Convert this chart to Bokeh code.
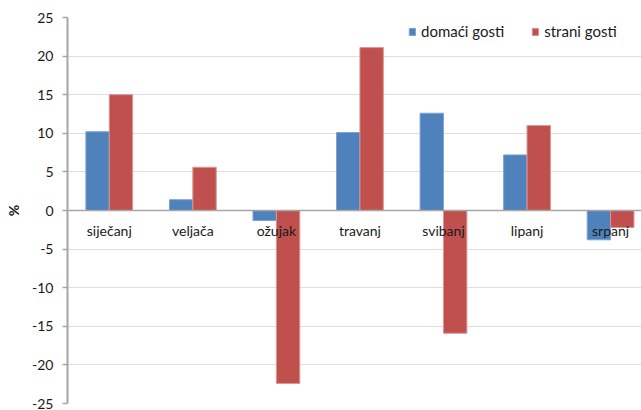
from bokeh.plotting import figure
from bokeh.models import (ColumnDataSource, Range1d, FixedTicker, Span, Legend,
                          LegendItem, PrintfTickFormatter)
from bokeh.core.properties import value
from bokeh.embed import file_html
from bokeh.resources import INLINE

# Monthly change, %
months = ["siječanj", "veljača", "ožujak", "travanj", "svibanj", "lipanj", "srpanj"]
domaci = [10.2, 1.4, -1.3, 10.1, 12.6, 7.2, -3.8]
strani = [15.0, 5.6, -22.4, 21.1, -15.9, 11.0, -2.2]
series_names = ["domaći gosti", "strani gosti"]
y_ticks = [-25, -20, -15, -10, -5, 0, 5, 10, 15, 20, 25]

FONT = "Lato"
BLUE = "#4F81BD"
RED = "#C0504D"
GRAY = "#A6A6A6"

centers = [i + 0.5 for i in range(len(months))]
bw = 0.28
src = ColumnDataSource(dict(
    month=months,
    xc=centers,
    xd=[c - bw / 2 for c in centers],
    xs=[c + bw / 2 for c in centers],
    domaci=domaci,
    strani=strani,
))

p = figure(width=641, height=410, output_backend="svg", toolbar_location=None,
           x_range=Range1d(0, 6.87), y_range=Range1d(-25, 25),
           min_border_left=67, min_border_right=0, min_border_top=17,
           min_border_bottom=7)
p.outline_line_color = None
p.background_fill_color = "white"
p.border_fill_color = "white"

# grid
p.xgrid.visible = False
p.ygrid.ticker = FixedTicker(ticks=y_ticks)
p.ygrid.grid_line_color = "#BDBDBD"
p.ygrid.grid_line_dash = "1 1"
p.ygrid.grid_line_width = 1

# axes
p.xaxis.visible = False
ya = p.yaxis[0]
ya.ticker = FixedTicker(ticks=y_ticks)
ya.formatter = PrintfTickFormatter(format="%d")
ya.axis_line_color = GRAY
ya.axis_line_width = 2
ya.major_tick_line_color = GRAY
ya.major_tick_line_width = 1.5
ya.major_tick_out = 5
ya.major_tick_in = 0
ya.minor_tick_line_color = None
ya.major_label_text_font = FONT
ya.major_label_text_font_size = "14px"
ya.major_label_text_color = "#1a1a1a"
ya.major_label_standoff = 9
ya.axis_label = "%"
ya.axis_label_text_font = FONT
ya.axis_label_text_font_style = "bold"
ya.axis_label_text_font_size = "14px"
ya.axis_label_text_color = "#1a1a1a"
ya.axis_label_standoff = 7

# bars
r_dom = p.vbar(x="xd", top="domaci", bottom=0, width=bw, source=src,
               fill_color=BLUE, line_color="#7FA3CF", line_width=1)
r_str = p.vbar(x="xs", top="strani", bottom=0, width=bw, source=src,
               fill_color=RED, line_color="#D99694", line_width=1)

# zero line
p.add_layout(Span(location=0, dimension="width", line_color=GRAY, line_width=1.5))

# category labels next to the zero line
p.text(x="xc", y=0, text="month", source=src, text_align="center",
       text_baseline="top", y_offset=11, text_font=value(FONT),
       text_font_size="14px", text_color="#1a1a1a")

legend = Legend(items=[LegendItem(label=series_names[0], renderers=[r_dom]),
                       LegendItem(label=series_names[1], renderers=[r_str])],
                orientation="horizontal", location=(341, 363),
                glyph_width=8, glyph_height=9, label_standoff=5, spacing=27,
                padding=0, margin=0, label_height=16,
                label_text_font=FONT, label_text_font_size="15px",
                label_text_color="#1a1a1a",
                border_line_alpha=0, background_fill_alpha=0)
p.add_layout(legend, "center")

open("out.html", "w").write(file_html(p, INLINE))
